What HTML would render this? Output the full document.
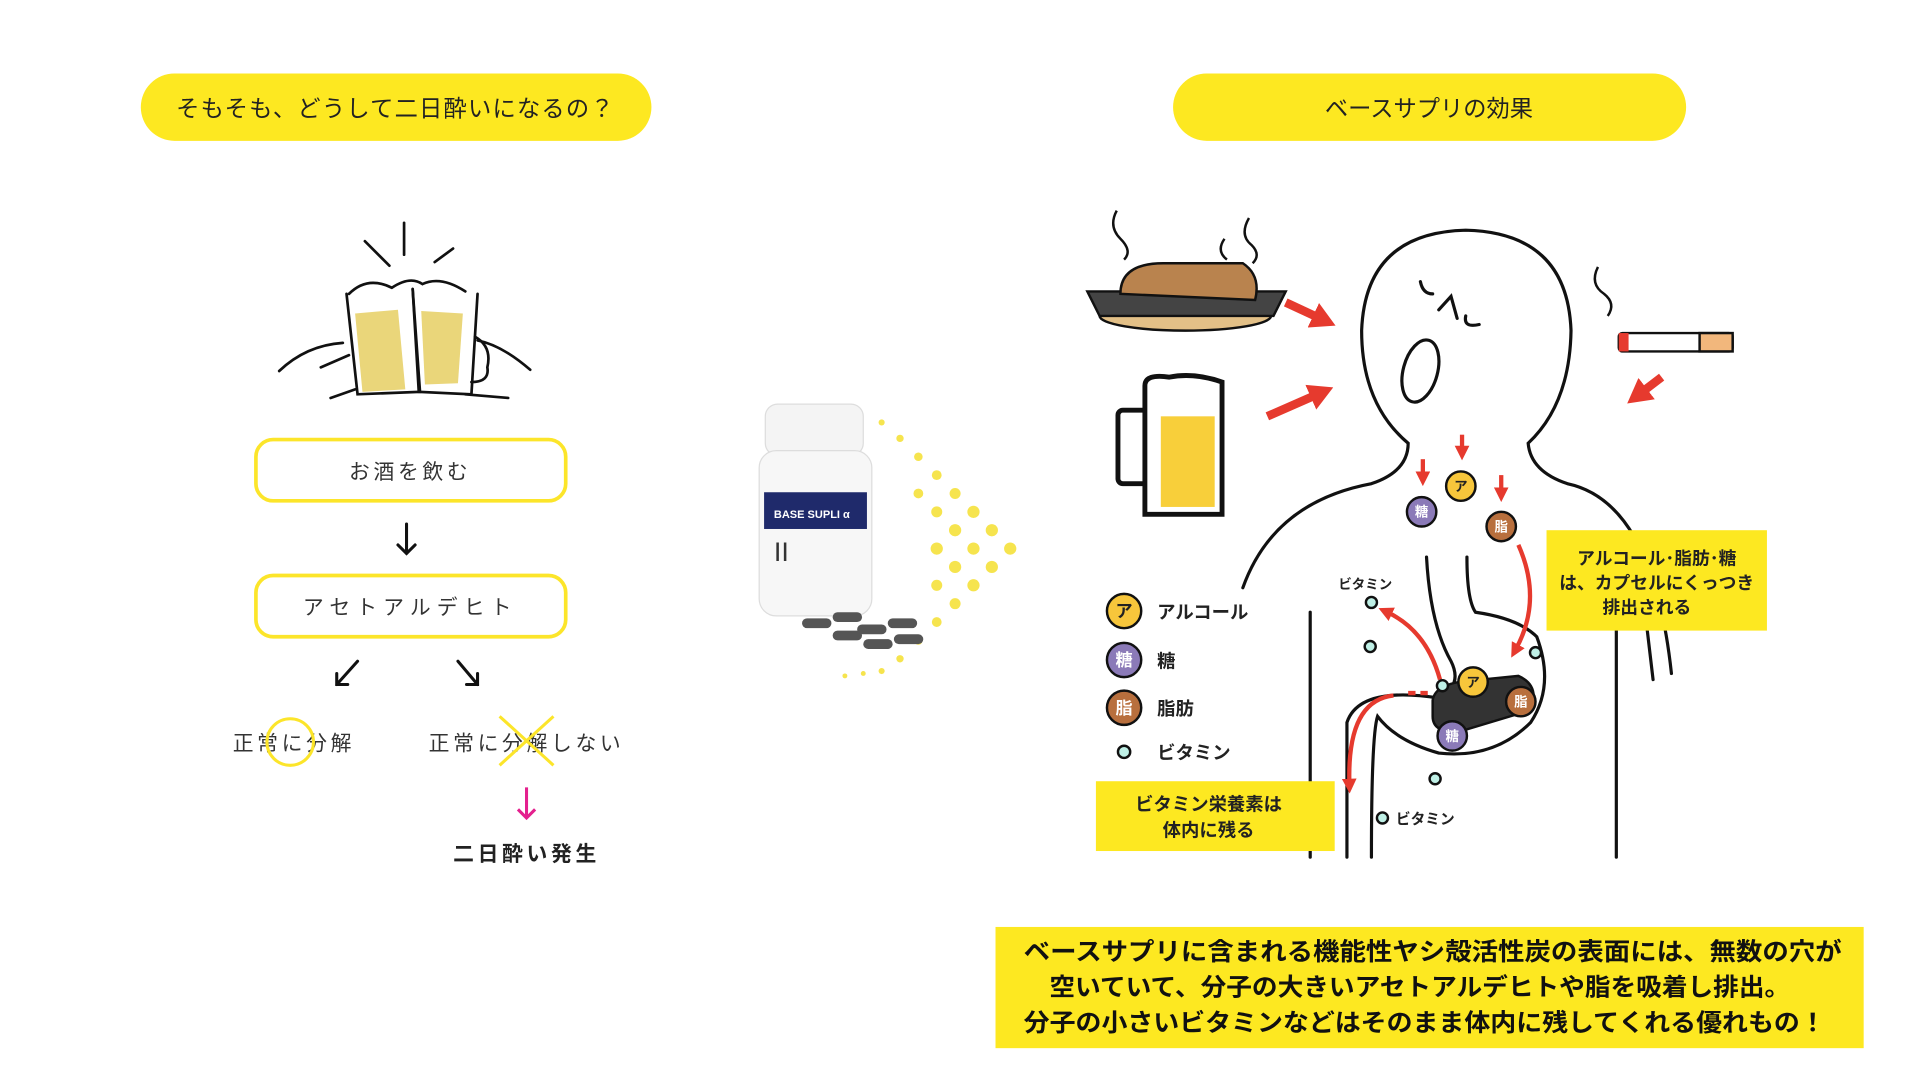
<!DOCTYPE html>
<html><head><meta charset="utf-8"><style>
html,body{margin:0;padding:0;background:#fff;width:1920px;height:1080px;overflow:hidden}
svg{display:block}
text{font-family:"Liberation Sans","Noto Sans CJK JP",sans-serif}
</style></head><body>
<svg width="1920" height="1080" viewBox="0 0 1568 882" preserveAspectRatio="none" xmlns="http://www.w3.org/2000/svg">
<defs>
<marker id="ah" markerUnits="userSpaceOnUse" markerWidth="12" markerHeight="12" refX="4" refY="6" orient="auto"><path d="M0,0 L12,6 L0,12 Z" fill="#e63a2e"/></marker>
<marker id="ahb" markerUnits="userSpaceOnUse" markerWidth="20" markerHeight="22" refX="6" refY="11" orient="auto"><path d="M0,0 L20,11 L0,22 Z" fill="#e63a2e"/></marker>
</defs>
<!-- pills -->
<rect x="115" y="60" width="417" height="55" rx="27.5" fill="#fde821"/>
<text x="323" y="95" font-size="19" text-anchor="middle" fill="#222" letter-spacing="1">そもそも、どうして二日酔いになるの？</text>
<rect x="958" y="60" width="419" height="55" rx="27.5" fill="#fde821"/>
<text x="1167" y="95" font-size="19" text-anchor="middle" fill="#222">ベースサプリの効果</text>

<!-- beer cheers -->
<g stroke="#111" stroke-width="2.2" fill="none" stroke-linecap="round">
<line x1="330" y1="182" x2="330" y2="208"/><line x1="298" y1="197" x2="318" y2="217"/><line x1="370" y1="203" x2="355" y2="214"/>
<path d="M283,240 L292,322 L343,320 L337,236"/>
<path d="M337,236 L342,320 L385,322 L390,240"/>
<path d="M285,240 Q300,225 320,235 Q335,225 345,232 Q360,225 380,238"/>
<path d="M228,303 Q250,282 280,280"/><path d="M262,300 L285,290"/>
<path d="M270,325 L290,318"/><path d="M433,302 Q410,282 390,278"/><path d="M380,322 L415,325"/>
<path d="M388,275 Q402,283 398,300 Q400,312 385,312"/>
</g>
<path d="M290,256 L325,253 L331,318 L296,320 Z" fill="#ead67a"/>
<path d="M344,254 L378,256 L374,313 L347,314 Z" fill="#ead67a"/>

<!-- flow boxes -->
<rect x="209" y="359" width="253" height="50" rx="14" fill="none" stroke="#fce52a" stroke-width="3"/>
<text x="335" y="391" font-size="17" text-anchor="middle" fill="#333" letter-spacing="3">お酒を飲む</text>
<rect x="209" y="470" width="253" height="50" rx="14" fill="none" stroke="#fce52a" stroke-width="3"/>
<text x="335" y="502" font-size="17" text-anchor="middle" fill="#333" letter-spacing="5">アセトアルデヒト</text>
<g stroke="#111" stroke-width="2.5" fill="none" stroke-linecap="round">
<path d="M332,428 L332,452 M325,445 L332,452 L339,445"/>
<path d="M292,540 L275,559 M275,550 L275,559 L284,559"/>
<path d="M374,540 L390,559 M381,559 L390,559 L390,550"/>
</g>
<text x="240" y="613" font-size="17" text-anchor="middle" fill="#333" letter-spacing="3">正常に分解</text>
<circle cx="237" cy="606" r="19" fill="none" stroke="#fce52a" stroke-width="2.5"/>
<text x="430" y="613" font-size="17" text-anchor="middle" fill="#333" letter-spacing="3">正常に分解しない</text>
<path d="M408,585 L452,625 M452,585 L408,625" stroke="#fce52a" stroke-width="2.5"/>
<path d="M430,643 L430,668 M423,661 L430,668 L437,661" stroke="#e4208e" stroke-width="2.5" fill="none"/>
<text x="430" y="703" font-size="17" font-weight="bold" text-anchor="middle" fill="#222" letter-spacing="3">二日酔い発生</text>

<!-- dots pattern -->
<g fill="#f5e030" opacity="0.85">
<circle cx="825" cy="448" r="5"/><circle cx="810" cy="433" r="5"/><circle cx="810" cy="463" r="5"/><circle cx="795" cy="418" r="5"/><circle cx="795" cy="448" r="5"/><circle cx="795" cy="478" r="5"/>
<circle cx="780" cy="403" r="4.5"/><circle cx="780" cy="433" r="5"/><circle cx="780" cy="463" r="5"/><circle cx="780" cy="493" r="4.5"/>
<circle cx="765" cy="388" r="4"/><circle cx="765" cy="418" r="4.5"/><circle cx="765" cy="448" r="5"/><circle cx="765" cy="478" r="4.5"/><circle cx="765" cy="508" r="4"/>
<circle cx="750" cy="373" r="3.5"/><circle cx="750" cy="403" r="4"/><circle cx="750" cy="523" r="3.5"/><circle cx="735" cy="358" r="3"/><circle cx="735" cy="538" r="3"/>
<circle cx="720" cy="345" r="2.5"/><circle cx="720" cy="548" r="2.5"/><circle cx="705" cy="550" r="2"/><circle cx="690" cy="552" r="2"/>
</g>
<!-- bottle -->
<rect x="625" y="330" width="80" height="42" rx="10" fill="#f4f4f4" stroke="#ddd"/>
<rect x="620" y="368" width="92" height="135" rx="14" fill="#f7f7f7" stroke="#ddd"/>
<rect x="624" y="402" width="84" height="30" fill="#1f2a6b"/>
<text x="632" y="423" font-size="9" fill="#fff" font-weight="bold">BASE SUPLI α</text>
<text x="632" y="458" font-size="22" fill="#333" font-family="Liberation Serif">II</text>
<g fill="#555">
<rect x="655" y="505" width="24" height="8" rx="4"/><rect x="680" y="500" width="24" height="8" rx="4"/><rect x="700" y="510" width="24" height="8" rx="4"/>
<rect x="725" y="505" width="24" height="8" rx="4"/><rect x="705" y="522" width="24" height="8" rx="4"/><rect x="730" y="518" width="24" height="8" rx="4"/><rect x="680" y="515" width="24" height="8" rx="4"/>
</g>

<!-- right illustration: human -->
<g stroke="#111" stroke-width="2.6" fill="none" stroke-linecap="round">
<path d="M1015,480 Q1040,410 1120,395 Q1150,385 1150,362 Q1112,330 1112,270 Q1115,190 1197,188 Q1280,190 1283,270 Q1282,330 1248,362 Q1250,385 1280,395 Q1350,410 1365,550"/>
<ellipse cx="1160" cy="303" rx="14" ry="26" transform="rotate(15 1160 303)"/>
<path d="M1160,230 Q1162,240 1170,240"/><path d="M1175,253 L1185,242 L1190,260"/><path d="M1197,258 Q1195,268 1208,265"/>
<line x1="1070" y1="500" x2="1070" y2="700"/><line x1="1320" y1="480" x2="1320" y2="700"/>
<path d="M1165,455 Q1168,510 1185,540 Q1195,560 1175,570 Q1110,560 1100,590 L1100,700"/>
<path d="M1198,455 Q1198,490 1205,500 Q1240,505 1255,520 Q1270,560 1250,590 Q1220,620 1175,615 Q1140,605 1125,585 Q1120,600 1120,700"/>
<path d="M1340,470 L1350,555"/>
</g>
<!-- steam -->
<g stroke="#111" stroke-width="2" fill="none">
<path d="M912,172 Q905,185 915,195 Q925,205 918,212"/><path d="M1000,195 Q993,205 1002,212"/><path d="M1020,178 Q1012,192 1022,200 Q1030,208 1023,215"/>
<path d="M1305,218 Q1298,232 1310,240 Q1320,248 1313,258"/>
</g>
<!-- steak -->
<ellipse cx="968" cy="258" rx="70" ry="12" fill="#e3c087" stroke="#111" stroke-width="2"/>
<path d="M888,238 L1050,238 L1040,258 L898,258 Z" fill="#444" stroke="#111" stroke-width="2"/>
<path d="M915,240 Q915,215 950,215 L1015,215 Q1030,225 1025,245 Z" fill="#b9834e" stroke="#111" stroke-width="2"/>
<!-- beer mug -->
<rect x="913" y="335" width="25" height="60" rx="4" fill="none" stroke="#111" stroke-width="4"/>
<path d="M935,315 Q935,305 955,308 Q975,304 998,312 L998,420 L935,420 Z" fill="#fff" stroke="#111" stroke-width="4"/>
<rect x="948" y="340" width="44" height="74" fill="#f8cf3a"/>
<!-- cigarette -->
<rect x="1322" y="272" width="93" height="15" rx="3" fill="#fff" stroke="#111" stroke-width="2"/>
<rect x="1388" y="272" width="27" height="15" fill="#f2b77c" stroke="#111" stroke-width="2"/>
<rect x="1322" y="272" width="8" height="15" fill="#e63a2e"/>
<!-- red arrows -->
<g stroke="#e63a2e" stroke-width="7" fill="none">
<line x1="1050" y1="247" x2="1078" y2="260" marker-end="url(#ahb)"/>
<line x1="1035" y1="340" x2="1076" y2="322" marker-end="url(#ahb)"/>
<line x1="1357" y1="308" x2="1340" y2="321" marker-end="url(#ahb)"/>
</g>
<g stroke="#e63a2e" stroke-width="3.5" fill="none">
<line x1="1162" y1="375" x2="1162" y2="389" marker-end="url(#ah)"/>
<line x1="1194" y1="355" x2="1194" y2="368" marker-end="url(#ah)"/>
<line x1="1226" y1="388" x2="1226" y2="402" marker-end="url(#ah)"/>
<path d="M1240,445 Q1260,490 1238,530" marker-end="url(#ah)"/>
<path d="M1176,555 Q1165,515 1133,500" marker-end="url(#ah)"/>
<path d="M1138,568 Q1100,572 1102,640" marker-end="url(#ah)"/>
<path d="M1150,566 L1168,566" stroke-dasharray="6,4"/>
</g>
<!-- capsule -->
<path d="M1170,572 Q1172,558 1200,556 L1240,552 Q1258,560 1250,580 L1190,598 Q1170,598 1170,585 Z" fill="#333" stroke="#111" stroke-width="2"/>
<!-- molecules -->
<g font-size="11" font-weight="bold" text-anchor="middle" stroke="#111" stroke-width="2">
<circle cx="1193" cy="397" r="12" fill="#f7c63b"/><circle cx="1161" cy="418" r="12" fill="#8b7ab8"/><circle cx="1226" cy="430" r="12" fill="#b86f3d"/>
<circle cx="1203" cy="557" r="12" fill="#f7c63b"/><circle cx="1242" cy="573" r="12" fill="#b86f3d"/><circle cx="1186" cy="601" r="12" fill="#8b7ab8"/>
<circle cx="918" cy="499" r="14" fill="#f7c63b"/><circle cx="918" cy="539" r="14" fill="#8b7ab8"/><circle cx="918" cy="578" r="14" fill="#b86f3d"/>
</g>
<g font-size="11" font-weight="bold" text-anchor="middle" fill="#fff">
<text x="1193" y="401" fill="#222">ア</text><text x="1161" y="422">糖</text><text x="1226" y="434">脂</text>
<text x="1203" y="561" fill="#222">ア</text><text x="1242" y="577">脂</text><text x="1186" y="605">糖</text>
<text x="918" y="504" font-size="14" fill="#222">ア</text><text x="918" y="544" font-size="14">糖</text><text x="918" y="583" font-size="14">脂</text>
</g>
<g fill="#bff0e6" stroke="#111" stroke-width="2">
<circle cx="1120" cy="492" r="4.5"/><circle cx="1119" cy="528" r="4.5"/><circle cx="1254" cy="533" r="4.5"/><circle cx="1178" cy="560" r="4.5"/><circle cx="1172" cy="636" r="4.5"/><circle cx="1129" cy="668" r="4.5"/><circle cx="918" cy="614" r="5"/>
</g>
<g font-weight="bold" fill="#222">
<text x="945" y="505" font-size="15">アルコール</text><text x="945" y="545" font-size="15">糖</text><text x="945" y="584" font-size="15">脂肪</text><text x="945" y="620" font-size="15">ビタミン</text>
<text x="1093" y="481" font-size="11">ビタミン</text><text x="1140" y="673" font-size="12">ビタミン</text>
</g>
<rect x="1263" y="433" width="180" height="82" fill="#fde821"/>
<g font-size="14.5" font-weight="bold" fill="#222" text-anchor="middle">
<text x="1353" y="461">アルコール･脂肪･糖</text><text x="1353" y="481">は、カプセルにくっつき</text><text x="1345" y="501">排出される</text>
</g>
<rect x="895" y="638" width="195" height="57" fill="#fde821"/>
<g font-size="15" font-weight="bold" fill="#222" text-anchor="middle">
<text x="987" y="662">ビタミン栄養素は</text><text x="987" y="683">体内に残る</text>
</g>

<!-- bottom box -->
<rect x="813" y="757" width="709" height="99" fill="#fde821"/>
<g font-size="20" font-weight="bold" fill="#111">
<text x="836" y="784" textLength="668" lengthAdjust="spacingAndGlyphs">ベースサプリに含まれる機能性ヤシ殻活性炭の表面には、無数の穴が</text>
<text x="857" y="813" textLength="605" lengthAdjust="spacingAndGlyphs">空いていて、分子の大きいアセトアルデヒトや脂を吸着し排出。</text>
<text x="836" y="842" textLength="655" lengthAdjust="spacingAndGlyphs">分子の小さいビタミンなどはそのまま体内に残してくれる優れもの！</text>
</g>
</svg>
</body></html>
